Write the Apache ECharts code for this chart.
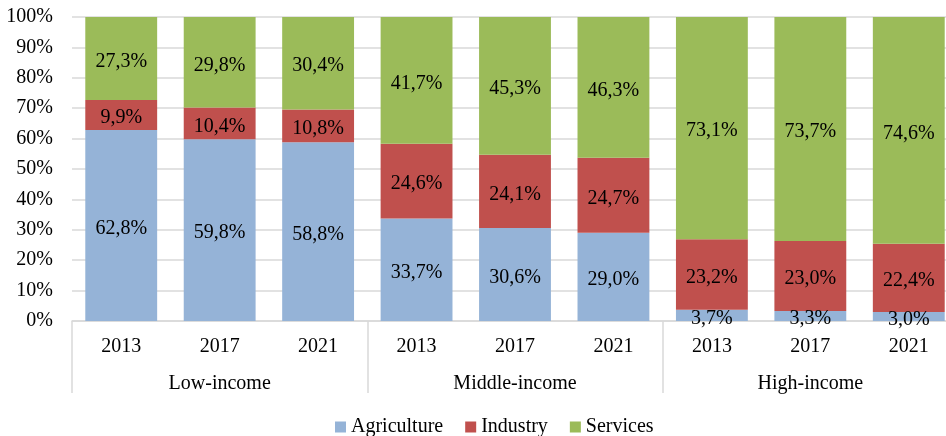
<!DOCTYPE html>
<html>
<head>
<meta charset="utf-8">
<script src="https://cdn.jsdelivr.net/npm/echarts@6/dist/echarts.min.js"></script>
<style>
  html, body { margin: 0; padding: 0; background: #fff; }
  #chart { width: 946px; height: 436px; }
</style>
</head>
<body>
<div id="chart"></div>
<script>
// Sector shares of employment (%) by income group and year
const years = ['2013', '2017', '2021', '2013', '2017', '2021', '2013', '2017', '2021'];
const groups = ['Low-income', 'Middle-income', 'High-income'];
const agriculture = [62.8, 59.8, 58.8, 33.7, 30.6, 29.0, 3.7, 3.3, 3.0];
const industry = [9.9, 10.4, 10.8, 24.6, 24.1, 24.7, 23.2, 23.0, 22.4];
const services = [27.3, 29.8, 30.4, 41.7, 45.3, 46.3, 73.1, 73.7, 74.6];
const yTicks = [0, 10, 20, 30, 40, 50, 60, 70, 80, 90, 100];

const FONT = "'Liberation Serif', 'Times New Roman', serif";
const fmt = v => v.toFixed(1).replace('.', ',') + '%';

function barSeries(name, data, color) {
  return {
    name: name,
    type: 'bar',
    stack: 'total',
    data: data,
    barCategoryGap: '27%',
    itemStyle: { color: color },
    label: {
      show: true,
      position: 'inside',
      offset: [0, 3],
      formatter: p => fmt(p.value),
      fontFamily: FONT,
      fontSize: 20,
      color: '#000'
    }
  };
}

const chart = echarts.init(document.getElementById('chart'), null, { renderer: 'canvas' });
chart.setOption({
  animation: false,
  backgroundColor: '#fff',
  grid: { left: 72, top: 17, width: 886, height: 304, outerBoundsMode: 'none', containLabel: false },
  legend: {
    left: 330,
    top: 412,
    itemWidth: 11,
    itemHeight: 11,
    itemGap: 22,
    icon: 'rect',
    textStyle: { fontFamily: FONT, fontSize: 20, color: '#000' },
    data: ['Agriculture', 'Industry', 'Services']
  },
  xAxis: [
    {
      type: 'category',
      data: years,
      position: 'bottom',
      axisLine: { show: true, lineStyle: { color: '#D9D9D9', width: 1.5 } },
      axisTick: { show: false },
      axisLabel: { fontFamily: FONT, fontSize: 20, color: '#000', margin: 16 }
    },
    {
      type: 'category',
      data: groups,
      position: 'bottom',
      gridIndex: 0,
      axisLine: { show: false },
      axisTick: { show: true, length: 72, lineStyle: { color: '#D9D9D9', width: 1.5 } },
      axisLabel: { fontFamily: FONT, fontSize: 20, color: '#000', margin: 53 },
      splitLine: { show: false }
    }
  ],
  yAxis: {
    type: 'value',
    min: yTicks[0],
    max: yTicks[yTicks.length - 1],
    interval: 10,
    axisLine: { show: false },
    axisTick: { show: false },
    axisLabel: {
      fontFamily: FONT, fontSize: 20, color: '#000', margin: 19,
      formatter: v => v + '%'
    },
    splitLine: { lineStyle: { color: '#D9D9D9', width: 1.5 } }
  },
  series: [
    barSeries('Agriculture', agriculture, '#95B3D7'),
    barSeries('Industry', industry, '#C0504D'),
    barSeries('Services', services, '#9BBB59')
  ]
});
</script>
</body>
</html>
